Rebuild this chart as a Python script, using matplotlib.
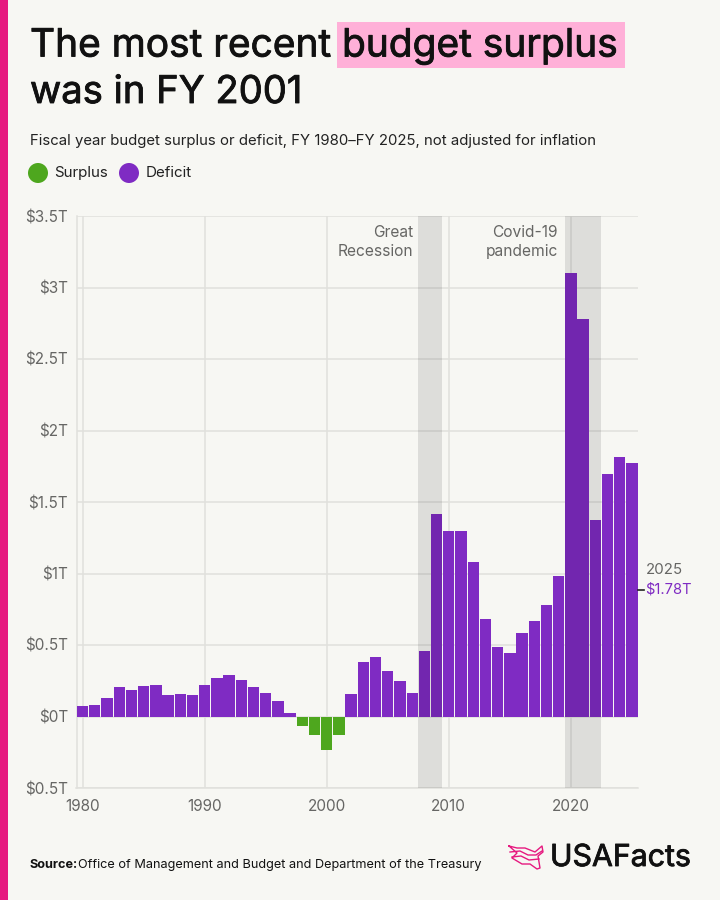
import matplotlib
matplotlib.use("Agg")
import matplotlib.pyplot as plt
import matplotlib.patheffects as pe
from matplotlib.patches import Rectangle, Circle

years = list(range(1980, 2026))
balance = [
    0.07, 0.077, 0.126, 0.208, 0.185, 0.212, 0.221, 0.15, 0.155, 0.153,
    0.221, 0.269, 0.29, 0.255, 0.203, 0.164, 0.107, 0.022, -0.069, -0.126,
    -0.236, -0.128, 0.158, 0.378, 0.413, 0.318, 0.248, 0.161, 0.459, 1.413,
    1.294, 1.30, 1.077, 0.68, 0.485, 0.442, 0.585, 0.665, 0.779, 0.984,
    3.10, 2.78, 1.375, 1.695, 1.817, 1.775,
]
y_ticks = [-0.5, 0, 0.5, 1, 1.5, 2, 2.5, 3, 3.5]
y_labels = ["$0.5T", "$0T", "$0.5T", "$1T", "$1.5T", "$2T", "$2.5T", "$3T", "$3.5T"]
x_ticks = [1980, 1990, 2000, 2010, 2020]
recessions = [(2007.45, 2009.45), (2019.5, 2022.5)]

BG = "#f7f7f3"
PURPLE = "#7f2bc3"
GREEN = "#4ea71e"
PINK = "#e6197f"
GREY = "#666664"
GRID = "#e0e0dc"

plt.rcParams["font.family"] = ["Inter", "DejaVu Sans"]

W, H = 720, 900
fig = plt.figure(figsize=(W / 100, H / 100), dpi=100, facecolor=BG)

# overlay in pixel coordinates for titles and furniture
page = fig.add_axes([0, 0, 1, 1])
page.set_xlim(0, W)
page.set_ylim(H, 0)
page.axis("off")

ax = fig.add_axes([76.5 / W, 1 - 788 / H, (638 - 76.5) / W, (788 - 216) / H])
ax.set_facecolor("none")
ax.set_xlim(1979.5, 2025.5)
ax.set_ylim(-0.5, 3.5)

colors = [PURPLE if v > 0 else GREEN for v in balance]
ax.bar(years, balance, width=0.93, color=colors, zorder=3)
for start, end in recessions:
    ax.axvspan(start, end, color="black", alpha=0.1, lw=0, zorder=4)

ax.set_yticks(y_ticks)
ax.set_yticklabels(y_labels)
ax.set_xticks(x_ticks)
ax.grid(True, color=GRID, lw=1.1, zorder=1)
ax.set_axisbelow(True)
ax.tick_params(length=0, labelsize=11, labelcolor=GREY)
ax.tick_params(axis="y", pad=6)
ax.tick_params(axis="x", pad=8)
for side in ["top", "right"]:
    ax.spines[side].set_visible(False)
for side in ["left", "bottom"]:
    ax.spines[side].set_color(GRID)
    ax.spines[side].set_linewidth(1.1)

ax.text(2007.05, 3.32, "Great\nRecession", ha="right", va="center", fontsize=11.2,
        color=GREY, linespacing=1.3, zorder=5)
ax.text(2018.95, 3.32, "Covid-19\npandemic", ha="right", va="center", fontsize=11.2,
        color=GREY, linespacing=1.3, zorder=5)

# 2025 callout sits at the middle of the last bar
last = balance[-1]
ax.plot([2025.5, 2026.0], [last / 2, last / 2], color="#222222", lw=1.2, clip_on=False, zorder=5)
ax.text(2026.15, last / 2 + 0.14, "2025", ha="left", va="center", fontsize=10.8, color=GREY)
ax.text(2026.1, last / 2, "$1.78T", ha="left", va="center", fontsize=10.6, color=PURPLE)

# left stripe and title
heavy = [pe.withStroke(linewidth=0.6, foreground="#111111")]
page.add_patch(Rectangle((0, 0), 8, H, color=PINK, lw=0))
page.add_patch(Rectangle((337, 22), 288, 46, color="#ffb0d8", lw=0))
page.text(30, 46, "The most recent", fontsize=28, color="#111111", va="center", path_effects=heavy)
page.text(342, 46, "budget surplus", fontsize=28, color="#111111", va="center", path_effects=heavy)
page.text(30, 93, "was in FY 2001", fontsize=27.5, color="#111111", va="center", path_effects=heavy)
page.text(30, 141, "Fiscal year budget surplus or deficit, FY 1980\u2013FY 2025, not adjusted for inflation",
          fontsize=10.75, color="#222222", va="center")

# legend
page.add_patch(Circle((38, 173), 10, color=GREEN, lw=0))
page.text(54, 173, "Surplus", fontsize=10.9, color="#222222", va="center")
page.add_patch(Circle((129, 173), 10, color=PURPLE, lw=0))
page.text(146, 173, "Deficit", fontsize=10.9, color="#222222", va="center")

# footer
page.text(30, 865, "Source:", fontsize=9.15, color="#111111", va="center", fontweight="bold")
page.text(78, 865, "Office of Management and Budget and Department of the Treasury",
          fontsize=9.15, color="#111111", va="center")

# logo
outline_x = [509, 517, 525, 535, 542, 543, 538, 540, 537, 530, 522, 512, 517, 509]
outline_y = [846, 848, 848, 852, 846, 852, 856, 868, 869, 864, 864, 858, 853, 846]
page.plot(outline_x, outline_y, color=PINK, lw=1.0)
page.plot([510, 520, 528, 536, 542], [852, 851, 855, 855, 851], color=PINK, lw=1.0)
page.plot([512, 521, 529, 539], [857, 856, 860, 859], color=PINK, lw=1.0)
page.text(550, 858, "USAFacts", fontsize=21.8, color="#111111", va="center",
          path_effects=[pe.withStroke(linewidth=0.6, foreground="#111111")])

fig.savefig("out.png", dpi=100, facecolor=BG)
plt.close(fig)
